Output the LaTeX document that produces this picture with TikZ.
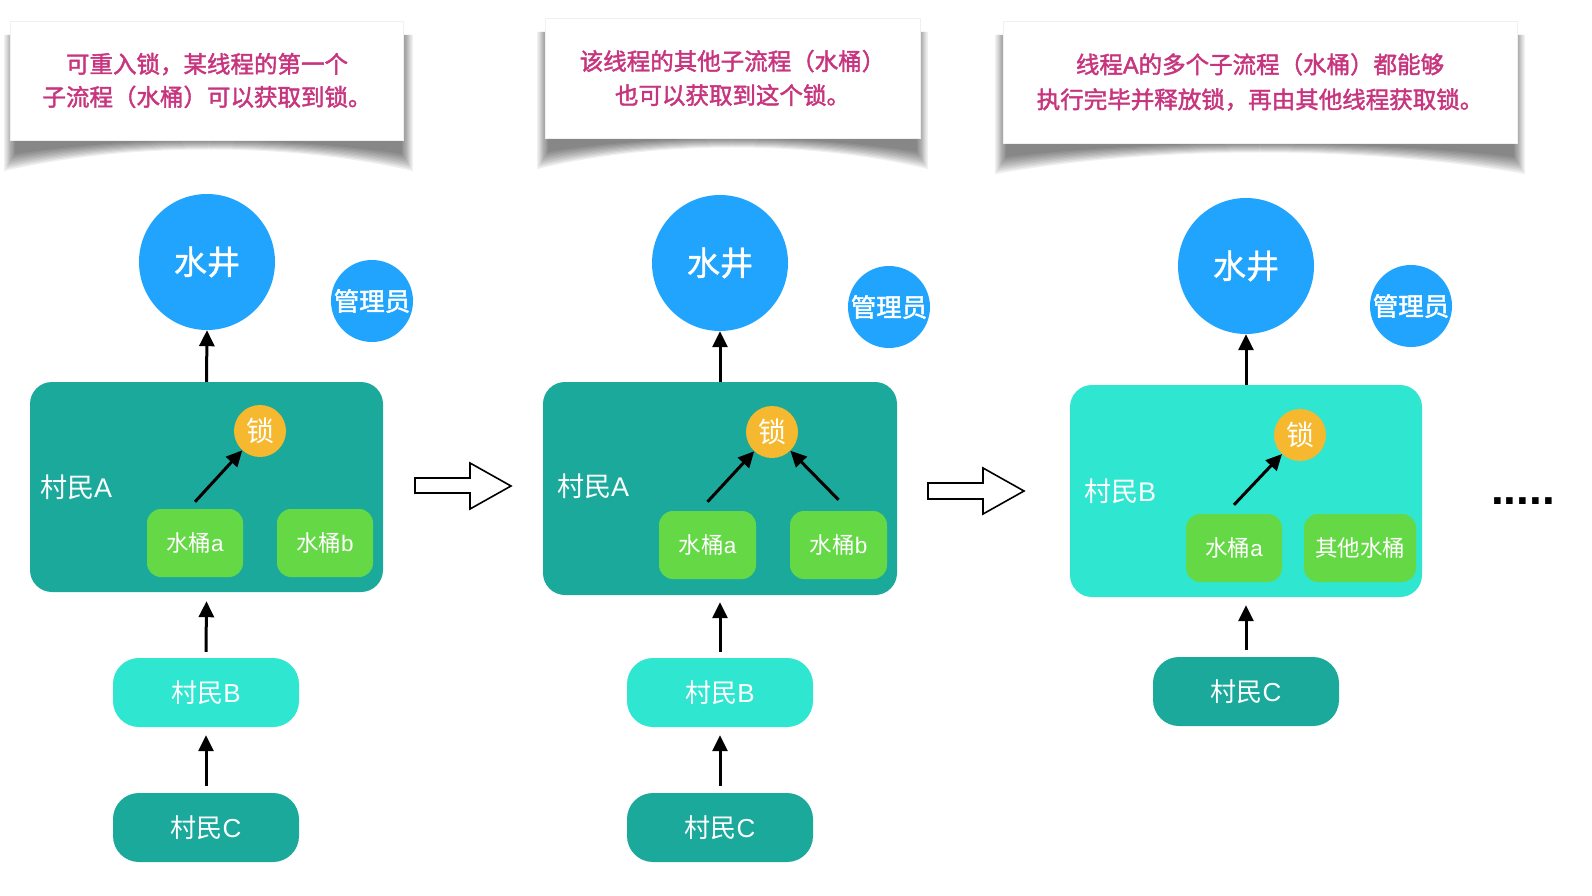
\documentclass[tikz,border=0pt]{standalone}
\usepackage{fontspec}
\setmainfont{Noto Sans CJK SC}
\newfontfamily\medf[FakeBold=1.8]{Noto Sans CJK SC}
\newfontfamily\semif[FakeBold=1.2]{Noto Sans CJK SC}
\newfontfamily\lat{Liberation Sans}
\newfontfamily\latb[FakeBold=1.8]{Liberation Sans}
\newfontfamily\dotf{Liberation Sans}
\usetikzlibrary{arrows.meta}
\definecolor{wellblue}{HTML}{20A4FE}
\definecolor{tealdark}{HTML}{1AA99B}
\definecolor{teallight}{HTML}{2FE6D0}
\definecolor{bucketgreen}{HTML}{65D945}
\definecolor{lockorange}{HTML}{F5B82E}
\definecolor{notepink}{HTML}{C8357F}
\newcommand\cshadow[4]{%
  \foreach \e in {0,...,9}{%
    \fill[black,opacity=0.06]
      ({#1+3-1.2*\e},{#2+14}) -- ({#1+3-1.2*\e},{#4+14+1.9*\e})
      .. controls ({#1+0.3*(#3-#1)},{#4-4+0.7*\e}) and ({#1+0.7*(#3-#1)},{#4-4+0.7*\e}) ..
      ({#3-3+1.2*\e},{#4+14+1.9*\e}) -- ({#3-3+1.2*\e},{#2+14}) -- cycle;
  }%
}
\begin{document}
\begin{tikzpicture}[x=1pt,y=-1pt,
  callout/.style={rectangle, fill=white, draw=black!6, line width=0.6pt, inner sep=0pt,
    text=notepink, align=center},
  well/.style={circle, fill=wellblue, text=white, inner sep=0pt, minimum size=136pt,
    font=\semif\fontsize{33}{33}\selectfont},
  admin/.style={circle, fill=wellblue, text=white, inner sep=0pt, minimum size=82pt,
    font=\medf\fontsize{25.5}{25.5}\selectfont},
  bigbox/.style={rectangle, rounded corners=22pt, inner sep=0pt},
  lockc/.style={circle, fill=lockorange, text=white, inner sep=0pt, minimum size=52pt,
    font=\fontsize{28}{28}\selectfont},
  bucket/.style={rectangle, rounded corners=14pt, fill=bucketgreen, text=white, inner sep=0pt,
    minimum height=68pt, font=\fontsize{22.5}{22.5}\selectfont},
  villager/.style={rectangle, rounded corners=26pt, text=white, inner sep=0pt,
    minimum width=186pt, minimum height=69pt, font=\fontsize{26}{26}\selectfont},
  boxlabel/.style={anchor=west, text=white, inner sep=0pt, font=\fontsize{27}{27}\selectfont},
  arr/.style={line width=3pt, -{Triangle[length=16pt,width=15pt]}},
  blockarrow/.style={draw=black, line width=1.6pt, fill=white, line join=miter}
]
\useasboundingbox (0,0) rectangle (1592,896);
\fill[white] (0,0) rectangle (1592,896);

% ---------- callouts ----------
\cshadow{12}{21}{405}{140}
\cshadow{545}{18}{920}{138}
\cshadow{1003}{21}{1517}{143}
\node[callout, minimum width=393pt, minimum height=119pt,
  font=\medf\fontsize{23.5}{33}\selectfont] (c1) at (207,80.5)
  {可重入锁，某线程的第一个\\子流程（水桶）可以获取到锁。};
\node[callout, minimum width=375pt, minimum height=120pt,
  font=\medf\fontsize{23.5}{34}\selectfont] (c2) at (732.5,78)
  {该线程的其他子流程（水桶）\\也可以获取到这个锁。};
\node[callout, minimum width=514pt, minimum height=122pt,
  font=\medf\fontsize{23.5}{35}\selectfont] (c3) at (1260,82)
  {线程{\latb A}的多个子流程（水桶）都能够\\执行完毕并释放锁，再由其他线程获取锁。};

% ---------- panel 1 ----------
\node[well] (well1) at (207,262) {水井};
\node[admin] (admin1) at (372,301) {管理员};
\node[bigbox, fill=tealdark, minimum width=353pt, minimum height=210pt] (boxA1) at (206.5,487) {};
\node[boxlabel] (lab1) at (40,487) {村民{\lat A}};
\node[lockc] (lock1) at (260,431) {锁};
\node[bucket, minimum width=96pt] (bA1) at (195,543) {水桶{\lat a}};
\node[bucket, minimum width=96pt] (bB1) at (325,543) {水桶{\lat b}};
\node[villager, fill=teallight] (vB1) at (206,692.5) {村民{\lat B}};
\node[villager, fill=tealdark] (vC1) at (206,827.5) {村民{\lat C}};
\draw[arr] (boxA1.north) -- (well1.south);
\draw[arr] ([yshift=7pt]bA1.north) -- (lock1);
\draw[arr] ([yshift=6pt]vB1.north) -- ([yshift=-9pt]boxA1.south);
\draw[arr] ([yshift=7pt]vC1.north) -- ([yshift=-8pt]vB1.south);

% ---------- panel 2 ----------
\node[well] (well2) at (720,263) {水井};
\node[admin] (admin2) at (889,307) {管理员};
\node[bigbox, fill=tealdark, minimum width=354pt, minimum height=213pt] (boxA2) at (720,488.5) {};
\node[boxlabel] (lab2) at (557,486) {村民{\lat A}};
\node[lockc] (lock2) at (772,432) {锁};
\node[bucket, minimum width=97pt] (bA2) at (707.5,545) {水桶{\lat a}};
\node[bucket, minimum width=97pt] (bB2) at (838.5,545) {水桶{\lat b}};
\node[villager, fill=teallight] (vB2) at (720,692.5) {村民{\lat B}};
\node[villager, fill=tealdark] (vC2) at (720,827.5) {村民{\lat C}};
\draw[arr] (boxA2.north) -- (well2.south);
\draw[arr] ([yshift=9pt]bA2.north) -- (lock2);
\draw[arr] ([yshift=11pt]bB2.north) -- (lock2);
\draw[arr] ([yshift=6pt]vB2.north) -- ([yshift=-7pt]boxA2.south);
\draw[arr] ([yshift=7pt]vC2.north) -- ([yshift=-8pt]vB2.south);

% ---------- panel 3 ----------
\node[well] (well3) at (1246,266) {水井};
\node[admin] (admin3) at (1411,306) {管理员};
\node[bigbox, fill=teallight, minimum width=352pt, minimum height=212pt] (boxB3) at (1246,491) {};
\node[boxlabel] (lab3) at (1084,491) {村民{\lat B}};
\node[lockc] (lock3) at (1300,435) {锁};
\node[bucket, minimum width=96pt] (bA3) at (1234,548) {水桶{\lat a}};
\node[bucket, minimum width=112pt] (bO3) at (1360,548) {其他水桶};
\node[villager, fill=tealdark] (vC3) at (1246,691.5) {村民{\lat C}};
\draw[arr] (boxB3.north) -- (well3.south);
\draw[arr] ([yshift=9pt]bA3.north) -- (lock3);
\draw[arr] ([yshift=7pt]vC3.north) -- ([yshift=-8pt]boxB3.south);

% ---------- block arrows ----------
\draw[blockarrow] (415,478) -- (470,478) -- (470,463) -- (511,486) -- (470,509)
  -- (470,493) -- (415,493) -- cycle;
\draw[blockarrow] (928,483) -- (983,483) -- (983,468) -- (1024,491) -- (983,514)
  -- (983,499) -- (928,499) -- cycle;

% ---------- ellipsis ----------
\node[anchor=base, inner sep=0pt, font=\dotf\bfseries\fontsize{46}{46}\selectfont] (dots) at (1523,504) {.....};
\end{tikzpicture}
\end{document}
